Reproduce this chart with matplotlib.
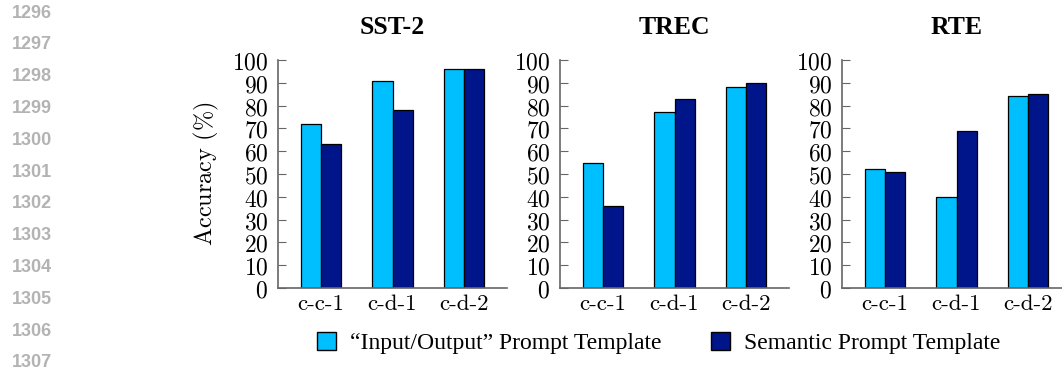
import numpy as np
import matplotlib.pyplot as plt
from matplotlib.patches import Patch

plt.rcParams['mathtext.fontset'] = 'cm'
plt.rcParams['axes.formatter.use_mathtext'] = True

# ── Data ──────────────────────────────────────────────────────────────────────
datasets = ['SST-2', 'TREC', 'RTE']
settings = ['c-c-1', 'c-d-1', 'c-d-2']
io_acc = {'SST-2': [72, 91, 96], 'TREC': [55, 77, 88], 'RTE': [52, 40, 84]}
sem_acc = {'SST-2': [63, 78, 96], 'TREC': [36, 83, 90], 'RTE': [51, 69, 85]}
yticks = list(range(0, 101, 10))
line_numbers = list(range(1296, 1308))

C_IO = '#00bfff'
C_SEM = '#00158a'
SPINE = '#666666'
W, H = 1062, 368

fig = plt.figure(figsize=(W / 100, H / 100), dpi=100)

# paper line numbers on the left margin
for i, n in enumerate(line_numbers):
    fig.text(12 / W, 1 - (13 + i * 31.8) / H, str(n), color='#b3b3b3',
             fontsize=13, fontweight='bold', family='Liberation Sans',
             ha='left', va='center')

lefts = [278, 560, 842]
x = np.arange(len(settings))
w = 0.28
for left, name in zip(lefts, datasets):
    ax = fig.add_axes([left / W, 1 - 288 / H, 229 / W, 228 / H])
    ax.bar(x - w/2, io_acc[name], w, color=C_IO, edgecolor='black', linewidth=0.9)
    ax.bar(x + w/2, sem_acc[name], w, color=C_SEM, edgecolor='black', linewidth=0.9)
    ax.set_xlim(-0.6, 2.6); ax.set_ylim(0, 100)
    ax.set_yticks(yticks)
    ax.set_yticklabels([f'${t}$' for t in yticks], fontsize=17)
    ax.set_xticks(x)
    ax.set_xticklabels(settings, family='cmr10', fontsize=16.5)
    ax.tick_params(axis='y', direction='in', length=6, color=SPINE, pad=7)
    ax.tick_params(axis='x', length=0, pad=5)
    for s in ['top', 'right']:
        ax.spines[s].set_visible(False)
    for s in ['left', 'bottom']:
        ax.spines[s].set_color(SPINE); ax.spines[s].set_linewidth(1.2)
    ax.set_title(name, family='Liberation Serif', fontweight='bold', fontsize=18.5, pad=19)
    if name == 'SST-2':
        ax.set_ylabel(r'$\mathrm{Accuracy\ (\%)}$', fontsize=17.5, labelpad=8)

handles = [Patch(facecolor=C_IO, edgecolor='black', label='\u201cInput/Output\u201d Prompt Template'),
           Patch(facecolor=C_SEM, edgecolor='black', label='Semantic Prompt Template')]
fig.legend(handles=handles, loc='center', bbox_to_anchor=(659 / W, 1 - 343 / H), ncol=2,
           frameon=False, prop={'family': 'Liberation Serif', 'size': 17},
           handlelength=0.8, handleheight=0.8, columnspacing=2.1, handletextpad=0.6,
           borderpad=0, borderaxespad=0)

plt.savefig('out.png', dpi=100)
